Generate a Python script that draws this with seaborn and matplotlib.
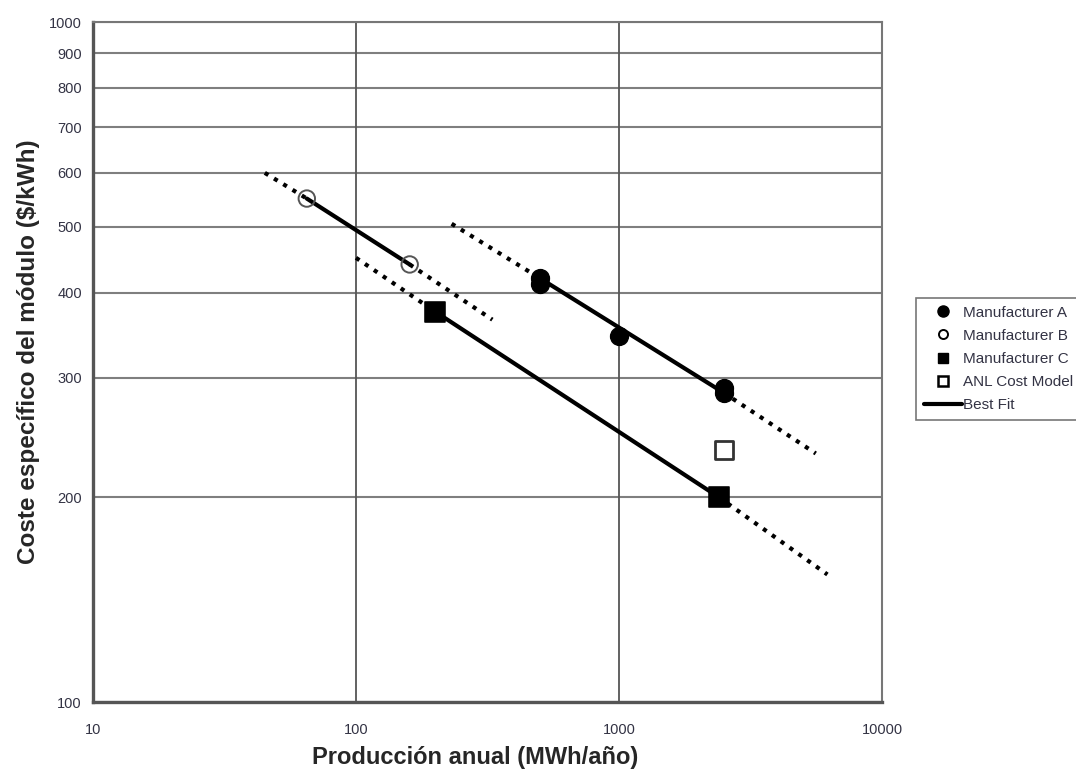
import matplotlib
matplotlib.use("Agg")
import matplotlib.pyplot as plt
from matplotlib.lines import Line2D
import seaborn as sns

# ---- data ----
mfr_a_x = [500, 500, 1000, 2500, 2500]
mfr_a_y = [420, 412, 345, 290, 285]
mfr_b_x = [65, 160]
mfr_b_y = [550, 440]
mfr_c_x = [200, 2400]
mfr_c_y = [375, 200]
anl_x = [2500]
anl_y = [235]

# best-fit segments (solid)
fit_a_x = [500, 2500]
fit_a_y = [420, 285]
fit_b_x = [65, 160]
fit_b_y = [550, 440]
fit_c_x = [200, 2400]
fit_c_y = [375, 200]
# dotted extensions: outer start / outer end points
ext_a_x = [231, 5600]
ext_a_y = [505, 232]
ext_b_x = [45, 330]
ext_b_y = [600, 365]
ext_c_x = [100, 6200]
ext_c_y = [450, 154]

y_ticks = [100, 200, 300, 400, 500, 600, 700, 800, 900, 1000]
x_ticks = [10, 100, 1000, 10000]

sns.set_style("white")
plt.rcParams['font.family'] = ['Liberation Sans', 'DejaVu Sans']

W, H = 1076, 769
L, R, T, B = 93, 882, 22, 702
fig = plt.figure(figsize=(W/100, H/100), dpi=100)
ax = fig.add_axes([L/W, 1 - B/H, (R-L)/W, (B-T)/H])
ax.set_xscale('log')
ax.set_yscale('log')
ax.set_xlim(10, 10000)
ax.set_ylim(100, 1000)

grid_c = '#7f7f7f'
for yv in y_ticks:
    ax.axhline(yv, color=grid_c, lw=1.5, zorder=0)
for xv in x_ticks:
    ax.axvline(xv, color='#555555', lw=1.3, zorder=0)

dot_style = (0, (1, 1.6))
for (fx, fy), (ex, ey) in [((fit_a_x, fit_a_y), (ext_a_x, ext_a_y)),
                           ((fit_b_x, fit_b_y), (ext_b_x, ext_b_y)),
                           ((fit_c_x, fit_c_y), (ext_c_x, ext_c_y))]:
    sns.lineplot(x=[ex[0], fx[0]], y=[ey[0], fy[0]], ax=ax, color='black', lw=3.0,
                 linestyle=dot_style, estimator=None, sort=False, zorder=2)
    sns.lineplot(x=[fx[1], ex[1]], y=[fy[1], ey[1]], ax=ax, color='black', lw=3.0,
                 linestyle=dot_style, estimator=None, sort=False, zorder=2)
    sns.lineplot(x=fx, y=fy, ax=ax, color='black', lw=3.0, estimator=None,
                 sort=False, zorder=3)

sns.scatterplot(x=mfr_a_x, y=mfr_a_y, ax=ax, marker='o', s=165, color='black',
                edgecolor='black', zorder=4)
sns.scatterplot(x=mfr_b_x, y=mfr_b_y, ax=ax, marker='o', s=140, facecolor='none',
                edgecolor='#555555', linewidth=1.4, zorder=4)
sns.scatterplot(x=mfr_c_x, y=mfr_c_y, ax=ax, marker='s', s=210, color='black',
                edgecolor='black', zorder=4)
sns.scatterplot(x=anl_x, y=anl_y, ax=ax, marker='s', s=160, facecolor='white',
                edgecolor='#333333', linewidth=2, zorder=4)

ax.set_xticks(x_ticks)
ax.set_xticklabels([str(v) for v in x_ticks])
ax.set_yticks(y_ticks)
ax.set_yticklabels([str(v) for v in y_ticks])
ax.xaxis.set_minor_locator(matplotlib.ticker.NullLocator())
ax.yaxis.set_minor_locator(matplotlib.ticker.NullLocator())
ax.tick_params(axis='both', which='major', labelsize=10.5, direction='out',
               length=5, width=1, color='#555555', labelcolor='#333344')
ax.tick_params(axis='x', pad=10)
ax.tick_params(axis='y', pad=3)

for sp in ax.spines.values():
    sp.set_color('#777777')
    sp.set_linewidth(1.5)
ax.spines['left'].set_linewidth(2.4)
ax.spines['left'].set_color('#555555')
ax.spines['bottom'].set_linewidth(2.4)
ax.spines['bottom'].set_color('#555555')

ax.set_xlabel('Producción anual (MWh/año)', fontsize=17, fontweight='bold')
ax.set_ylabel('Coste específico del módulo ($/kWh)', fontsize=17.5, fontweight='bold')
ax.xaxis.set_label_coords((475 - L) / (R - L), (B - 746) / (B - T))
ax.yaxis.set_label_coords((40 - L) / (R - L), (B - 352) / (B - T))

handles = [
    Line2D([], [], marker='o', color='black', linestyle='none', markersize=8),
    Line2D([], [], marker='o', markerfacecolor='white', markeredgecolor='black',
           linestyle='none', markersize=6.5, markeredgewidth=1.4),
    Line2D([], [], marker='s', color='black', linestyle='none', markersize=7.5),
    Line2D([], [], marker='s', markerfacecolor='white', markeredgecolor='black',
           linestyle='none', markersize=7.5, markeredgewidth=1.8),
    Line2D([], [], color='black', lw=3),
]
labels = ['Manufacturer A', 'Manufacturer B', 'Manufacturer C', 'ANL Cost Model', 'Best Fit']
leg = fig.legend(handles, labels, loc='upper left',
                 bbox_to_anchor=(916/W, 1 - 298/H), fontsize=11,
                 frameon=True, fancybox=False, edgecolor='#555555',
                 handlelength=2.5, handletextpad=0.05, labelspacing=0.6,
                 borderpad=0.5, borderaxespad=0)
leg.get_frame().set_linewidth(1.2)
for t in leg.get_texts():
    t.set_color('#333344')

fig.savefig('out.png', dpi=100)
